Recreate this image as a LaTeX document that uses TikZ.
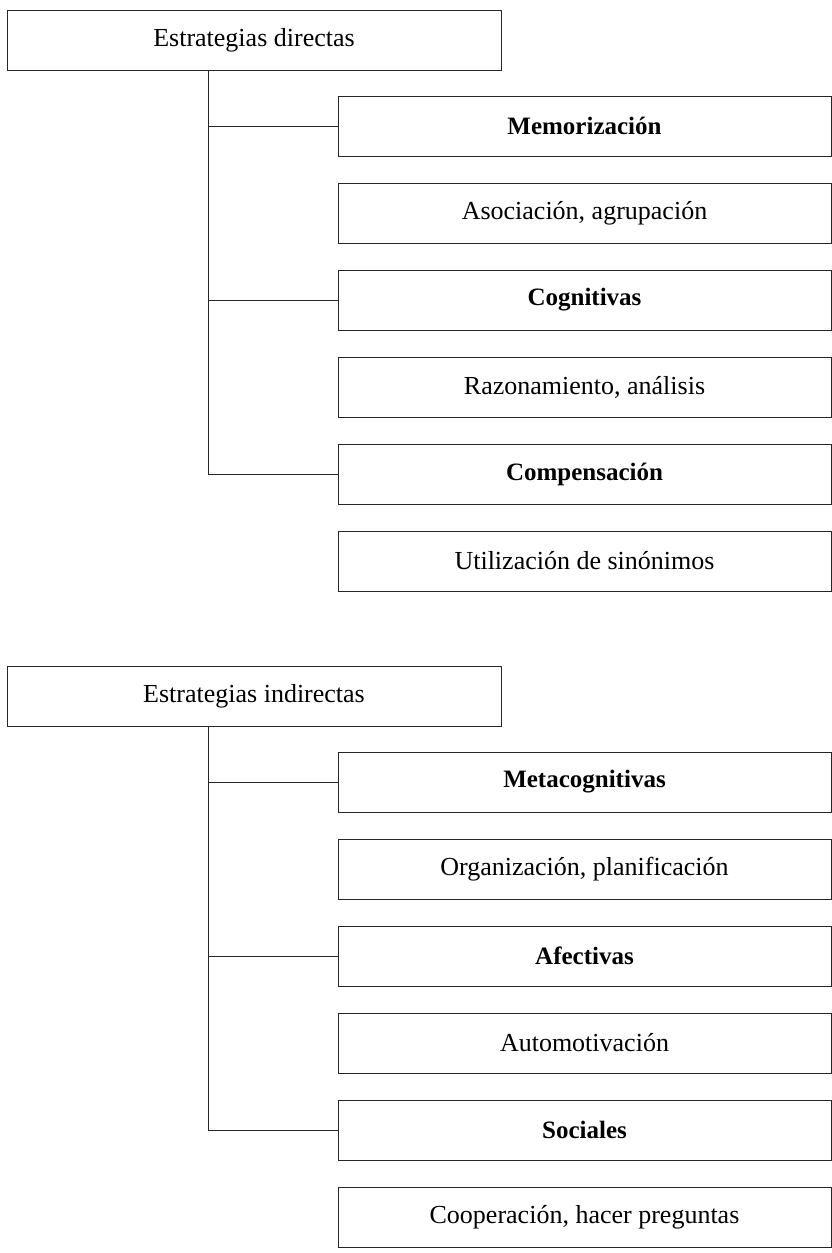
\documentclass[tikz,border=0pt]{standalone}
\usepackage{fontspec}
\setmainfont{Liberation Serif}

\begin{document}
\begin{tikzpicture}[x=1pt,y=-1pt]
\tikzstyle{every node}=[rectangle, draw=black!85, line width=.9pt, inner sep=0pt, font=\fontsize{26}{30}\selectfont]
\tikzstyle{head}=[minimum width=494pt, minimum height=60pt]
\tikzstyle{sub}=[minimum width=493pt, minimum height=60pt]
\tikzstyle{group}=[sub, font=\fontsize{25}{30}\selectfont\bfseries]
\tikzstyle{link}=[draw=black!85, line width=.9pt]
\useasboundingbox (0,0) rectangle (832,1253);
% estrategias directas
\draw (254,40) node (d0) [head] {Estrategias directas};
\draw (584.5,126) node (d1) [group] {Memorización};
\draw (584.5,213) node (d2) [sub] {Asociación, agrupación};
\draw (584.5,300) node (d3) [group] {Cognitivas};
\draw (584.5,387) node (d4) [sub] {Razonamiento, análisis};
\draw (584.5,474) node (d5) [group] {Compensación};
\draw (584.5,561) node (d6) [sub] {Utilización de sinónimos};
\coordinate (dv) at (208,70);
\draw[link] (dv) |- (d1.west);
\draw[link] (dv) |- (d3.west);
\draw[link] (dv) |- (d5.west);
% estrategias indirectas
\draw (254,696) node (i0) [head] {Estrategias indirectas};
\draw (584.5,782) node (i1) [group] {Metacognitivas};
\draw (584.5,869) node (i2) [sub] {Organización, planificación};
\draw (584.5,956) node (i3) [group] {Afectivas};
\draw (584.5,1043) node (i4) [sub] {Automotivación};
\draw (584.5,1130) node (i5) [group] {Sociales};
\draw (584.5,1217) node (i6) [sub] {Cooperación, hacer preguntas};
\coordinate (iv) at (208,726);
\draw[link] (iv) |- (i1.west);
\draw[link] (iv) |- (i3.west);
\draw[link] (iv) |- (i5.west);
\end{tikzpicture}
\end{document}
